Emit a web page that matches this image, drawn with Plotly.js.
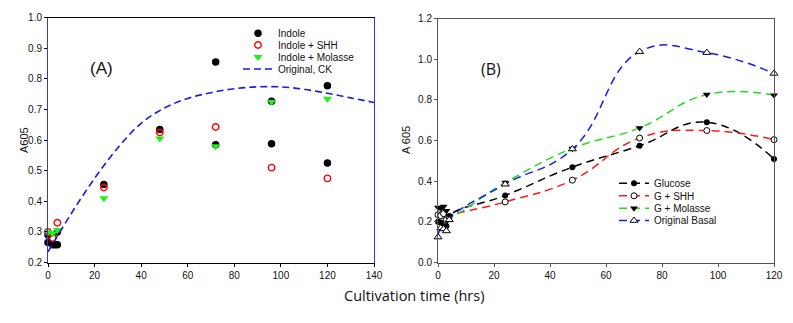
<!DOCTYPE html>
<html>
<head>
<meta charset="utf-8">
<script src="https://cdn.plot.ly/plotly-3.0.1.min.js"></script>
<style>
  html, body { margin: 0; padding: 0; background: #fff; }
  #chart { width: 793px; height: 323px; }
</style>
</head>
<body>
<div id="chart"></div>
<script>
// Panel (A) - indole media
var indoleX = [0, 0, 2, 3, 4, 4, 24, 48, 72, 72, 96, 96, 120, 120];
var indoleY = [0.265, 0.29, 0.258, 0.258, 0.258, 0.30, 0.455, 0.635, 0.855, 0.585, 0.727, 0.588, 0.778, 0.525];
var shhX = [0, 2, 4, 24, 48, 72, 96, 120];
var shhY = [0.30, 0.28, 0.33, 0.445, 0.625, 0.643, 0.51, 0.475];
var molX = [0, 2, 4, 24, 48, 72, 96, 120];
var molY = [0.30, 0.295, 0.305, 0.41, 0.605, 0.58, 0.725, 0.735];
var ckX = [0, 10, 20, 30, 40, 50, 60, 70, 80, 90, 100, 110, 120, 130, 140];
var ckY = [0.235, 0.36, 0.475, 0.575, 0.655, 0.705, 0.736, 0.755, 0.768, 0.774, 0.774, 0.766, 0.753, 0.738, 0.723];

// Panel (B) - glucose media
var timeB = [0, 1, 2, 3, 4, 24, 48, 72, 96, 120];
var glucoseY = [0.20, 0.197, 0.178, 0.18, 0.229, 0.33, 0.469, 0.574, 0.69, 0.509];
var gshhY = [0.235, 0.23, 0.24, 0.21, 0.225, 0.298, 0.405, 0.612, 0.649, 0.604];
var gmolY = [0.27, 0.265, 0.275, 0.255, 0.23, 0.393, 0.561, 0.662, 0.826, 0.823];
var basalY = [0.125, 0.17, 0.165, 0.155, 0.21, 0.385, 0.558, 1.037, 1.032, 0.93];

var W = 793, H = 323;
function px(x) { return x / W; }
function py(y) { return 1 - y / H; }

var data = [
  {x: indoleX, y: indoleY, name: 'Indole', type: 'scatter', mode: 'markers',
   marker: {color: '#000', size: 7.5}, cliponaxis: false, legend: 'legend'},
  {x: shhX, y: shhY, name: 'Indole + SHH', type: 'scatter', mode: 'markers',
   marker: {color: '#ff0000', size: 6.5, symbol: 'circle-open', line: {color: '#ff0000', width: 1.4}},
   cliponaxis: false, legend: 'legend2'},
  {x: molX, y: molY, name: 'Indole + Molasse', type: 'scatter', mode: 'markers',
   marker: {color: '#1ef01e', size: 8, symbol: 'triangle-down'}, cliponaxis: false, legend: 'legend3'},
  {x: ckX, y: ckY, name: 'Original, CK', type: 'scatter', mode: 'lines',
   line: {color: '#1a1aee', width: 1.6, dash: '7px,4px', shape: 'spline'}, legend: 'legend4'},

  {x: timeB, y: glucoseY, name: 'Glucose', type: 'scatter', mode: 'lines+markers',
   xaxis: 'x2', yaxis: 'y2', cliponaxis: false, legend: 'legend5',
   line: {color: '#000', width: 1.5, dash: '8px,5px', shape: 'spline', smoothing: 1.3},
   marker: {color: '#000', size: 6}},
  {x: timeB, y: gshhY, name: 'G + SHH', type: 'scatter', mode: 'lines+markers',
   xaxis: 'x2', yaxis: 'y2', cliponaxis: false, legend: 'legend6',
   line: {color: '#ff1a1a', width: 1.5, dash: '8px,5px', shape: 'spline', smoothing: 1.3},
   marker: {color: '#fff', size: 6, line: {color: '#000', width: 1}}},
  {x: timeB, y: gmolY, name: 'G + Molasse', type: 'scatter', mode: 'lines+markers',
   xaxis: 'x2', yaxis: 'y2', cliponaxis: false, legend: 'legend7',
   line: {color: '#22dd22', width: 1.5, dash: '8px,5px', shape: 'spline', smoothing: 1.3},
   marker: {color: '#000', size: 7, symbol: 'triangle-down'}},
  {x: timeB, y: basalY, name: 'Original Basal', type: 'scatter', mode: 'lines+markers',
   xaxis: 'x2', yaxis: 'y2', cliponaxis: false, legend: 'legend8',
   line: {color: '#1a1aee', width: 1.5, dash: '8px,5px', shape: 'spline', smoothing: 1.3},
   marker: {color: '#fff', size: 7, symbol: 'triangle-up', line: {color: '#000', width: 1}}}
];

var tickFont = {family: 'Arial, Liberation Sans, sans-serif', size: 10, color: '#111'};
var legFont = {family: 'Arial, Liberation Sans, sans-serif', size: 10, color: '#111'};

function leg(x, y) {
  return {x: px(x), y: py(y), xanchor: 'left', yanchor: 'middle',
          bgcolor: 'rgba(0,0,0,0)', borderwidth: 0, font: legFont};
}

var layout = {
  width: W, height: H,
  margin: {l: 0, r: 0, t: 0, b: 0, pad: 0},
  paper_bgcolor: '#fff', plot_bgcolor: '#fff',
  showlegend: true,
  xaxis: {domain: [px(48), px(374)], range: [0, 140], dtick: 20, tick0: 0,
          showgrid: false, zeroline: false, showline: true, mirror: true,
          linecolor: '#000', linewidth: 1, ticks: 'outside', ticklen: 3,
          tickcolor: '#000', tickfont: tickFont, anchor: 'y'},
  yaxis: {domain: [py(262.5), py(17.7)], range: [0.2, 1.0], dtick: 0.1, tick0: 0.2,
          tickformat: '.1f', showgrid: false, zeroline: false, showline: true,
          mirror: true, linecolor: '#3333ff', linewidth: 1, ticks: 'outside',
          ticklen: 3, tickcolor: '#000', tickfont: tickFont, anchor: 'x'},
  xaxis2: {domain: [px(438), px(774)], range: [0, 120], dtick: 20, tick0: 0,
           showgrid: false, zeroline: false, showline: true, mirror: true,
           linecolor: '#555', linewidth: 1, ticks: 'outside', ticklen: 3,
           tickcolor: '#555', tickfont: tickFont, anchor: 'y2'},
  yaxis2: {domain: [py(262.5), py(18.5)], range: [0, 1.2], dtick: 0.2, tick0: 0,
           tickformat: '.1f', showgrid: false, zeroline: false, showline: true,
           mirror: true, linecolor: '#555', linewidth: 1, ticks: 'outside',
           ticklen: 3, tickcolor: '#555', tickfont: tickFont, anchor: 'x2'},
  legend: leg(238, 33.3),
  legend2: leg(238, 45),
  legend3: leg(238, 57),
  legend4: leg(238, 69),
  legend5: leg(614, 183.3),
  legend6: leg(614, 195.8),
  legend7: leg(614, 208.2),
  legend8: leg(614, 220.5),
  annotations: [
    {text: '(A)', xref: 'paper', yref: 'paper', x: px(88), y: py(57), showarrow: false,
     font: {family: 'Arial, Liberation Sans, sans-serif', size: 17, color: '#111'}},
    {text: '(B)', xref: 'paper', yref: 'paper', x: px(491), y: py(56), showarrow: false,
     font: {family: 'Open Sans, sans-serif', size: 16, color: '#111'}},
    {text: 'A605', xref: 'paper', yref: 'paper', x: px(16), y: py(140), showarrow: false,
     textangle: -90, font: {family: 'Arial, Liberation Sans, sans-serif', size: 11, color: '#111'}},
    {text: 'A 605', xref: 'paper', yref: 'paper', x: px(406), y: py(140), showarrow: false,
     textangle: -90, font: {family: 'Arial, Liberation Sans, sans-serif', size: 11, color: '#111'}},
    {text: 'Cultivation time (hrs)', xref: 'paper', yref: 'paper', x: px(414), y: py(307),
     showarrow: false, font: {family: 'Open Sans, sans-serif', size: 14.5, color: '#111'}}
  ]
};

Plotly.newPlot('chart', data, layout, {displayModeBar: false, staticPlot: true});
</script>
</body>
</html>
